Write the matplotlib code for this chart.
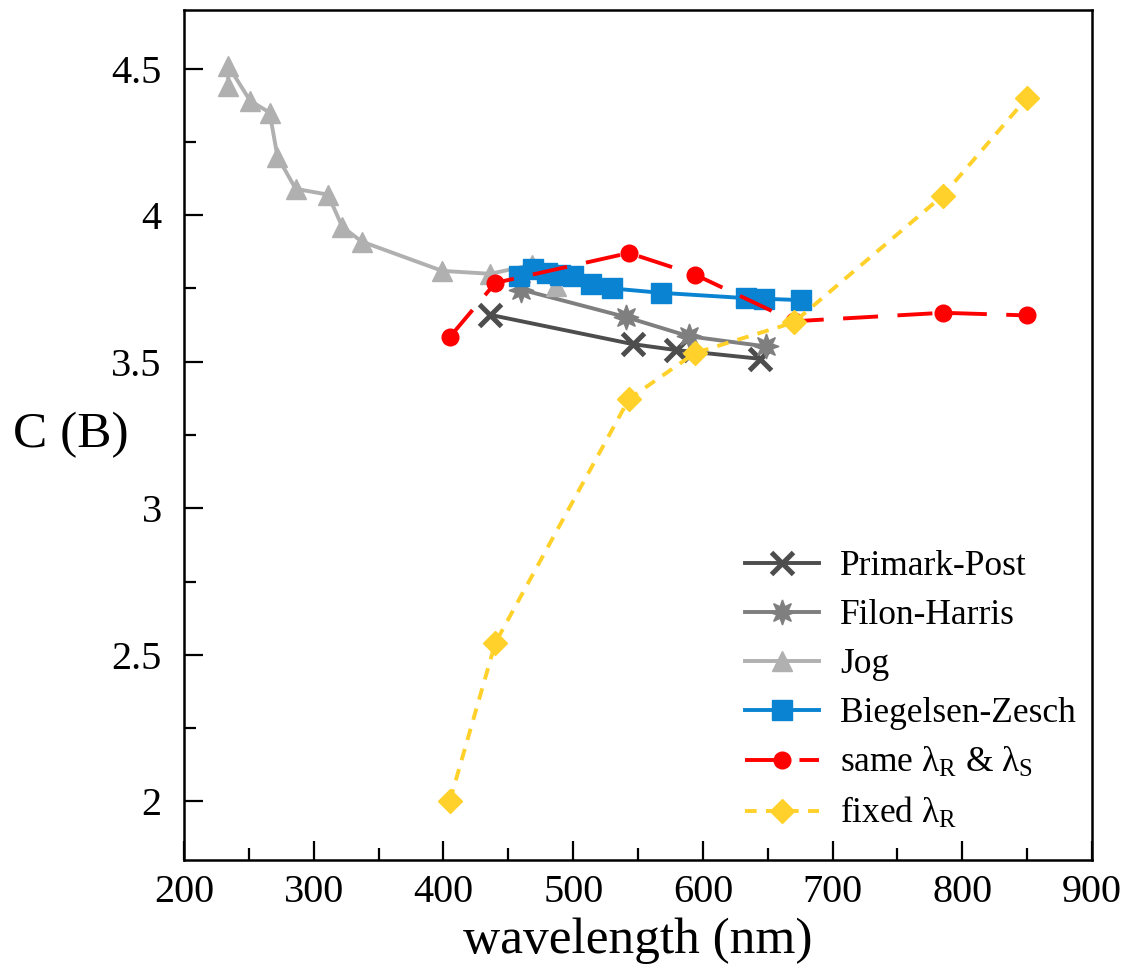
import matplotlib
matplotlib.use('Agg')
import matplotlib.pyplot as plt

plt.rcParams['font.family'] = ['Liberation Serif', 'DejaVu Serif']
plt.rcParams['mathtext.fontset'] = 'custom'
plt.rcParams['mathtext.rm'] = 'Liberation Serif'
plt.rcParams['mathtext.it'] = 'Liberation Serif:italic'

# data
pp_wl = [436, 546, 579, 644]
pp_c = [3.66, 3.56, 3.54, 3.51]

fh_wl = [460, 541, 589, 649]
fh_c = [3.746, 3.652, 3.587, 3.552]

jog_wl = [234, 234, 251, 266, 272, 286, 311, 322, 337, 399, 436, 468, 487]
jog_c = [4.44, 4.51, 4.39, 4.35, 4.20, 4.09, 4.07, 3.96, 3.91, 3.81, 3.80, 3.83, 3.76]

bz_wl = [458, 469, 480, 490, 500, 514, 530, 568, 633, 647, 676]
bz_c = [3.792, 3.815, 3.803, 3.797, 3.792, 3.764, 3.750, 3.735, 3.717, 3.715, 3.710]

laser_wl = [405, 440, 543, 594, 670, 785, 850]
same_c = [3.585, 3.769, 3.871, 3.797, 3.638, 3.667, 3.658]
fixed_c = [2.003, 2.541, 3.373, 3.530, 3.634, 4.067, 4.401]

labels = ['Primark-Post', 'Filon-Harris', 'Jog', 'Biegelsen-Zesch',
          r'same λ$_\mathrm{R}$ & λ$_\mathrm{S}$', r'fixed λ$_\mathrm{R}$']

fig = plt.figure(figsize=(11.34, 9.71), dpi=100)
ax = fig.add_axes([0.1623, 0.1143, 0.8007, 0.8754])

lw = 2.8
ax.plot(pp_wl, pp_c, color='#4d4d4d', lw=lw, marker='x', ms=16, mew=3.6, label=labels[0])
ax.plot(fh_wl, fh_c, color='#7f7f7f', lw=lw, marker=(8, 1, 0), ms=18, label=labels[1])
ax.plot(jog_wl, jog_c, color='#b0b0b0', lw=lw, marker='^', ms=14, label=labels[2])
ax.plot(bz_wl, bz_c, color='#0a84d2', lw=lw, marker='s', ms=14, label=labels[3])
ax.plot(laser_wl, same_c, color='#ff0000', lw=lw, marker='o', ms=12,
        linestyle=(0, (9, 5)), label=labels[4])
ax.plot(laser_wl, fixed_c, color='#ffd12a', lw=lw, marker='D', ms=12.5,
        linestyle=(0, (3, 2.4)), label=labels[5])

ax.set_xlim(200, 900)
ax.set_ylim(1.8, 4.7)
ax.set_xticks(range(200, 901, 100))
ax.set_xticks(range(250, 900, 100), minor=True)
ax.set_yticks([2, 2.5, 3, 3.5, 4, 4.5])
ax.set_yticklabels(['2', '2.5', '3', '3.5', '4', '4.5'])
ax.set_yticks([2.25, 2.75, 3.25, 3.75, 4.25], minor=True)
ax.tick_params(which='both', direction='in', top=False, right=False,
               labelsize=29, width=1.6)
ax.tick_params(axis='x', which='both', pad=10)
ax.tick_params(axis='y', which='both', pad=16)
ax.tick_params(which='major', length=14)
ax.tick_params(which='minor', length=8.5)
for s in ax.spines.values():
    s.set_linewidth(1.8)

ax.set_xlabel('wavelength (nm)', fontsize=37, labelpad=5)
ax.set_ylabel('C (B)', fontsize=37, rotation=0, labelpad=29, va='center')

ax.legend(loc='lower right', frameon=False, fontsize=25.5, handlelength=2.1,
          labelspacing=0.45, borderaxespad=0.3, handletextpad=0.6,
          bbox_to_anchor=(1.01, 0.005))

fig.savefig('out.png', dpi=100)
